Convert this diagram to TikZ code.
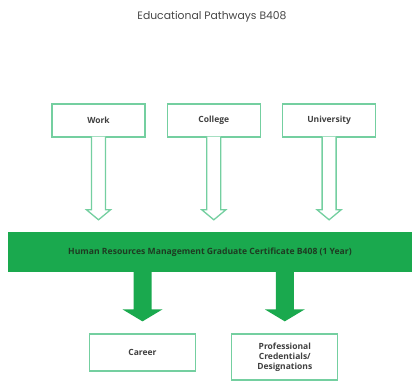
\documentclass[tikz,border=0pt]{standalone}
\usepackage{fontspec}
\setmainfont{Open Sans}
\newfontfamily\titlefont{Poppins}
\usetikzlibrary{positioning,calc}
\definecolor{bargreen}{HTML}{1AA94E}
\definecolor{linegreen}{HTML}{74CFA0}
\definecolor{bartext}{HTML}{1E3B22}
\tikzstyle{pathbox}=[rectangle, draw=linegreen, line width=1.3pt, fill=white, minimum width=93pt, minimum height=33pt, inner sep=2pt, text centered, font=\fontsize{8.5}{10}\selectfont\bfseries, text=black!75]
\tikzstyle{outbox}=[pathbox, minimum width=106pt, text width=100pt]
\tikzstyle{bar}=[rectangle, fill=bargreen, minimum width=404pt, minimum height=40pt, inner sep=0pt, text=bartext, font=\fontsize{8.6}{10}\selectfont\bfseries]
\tikzstyle{openarr}=[draw=linegreen, line width=1.3pt, fill=white, line join=miter]
\newcommand\openarrow[2]{
  \path (#1.south) coordinate ({#1}a) (#1.south |- #2.north) coordinate ({#1}b);
  \draw[openarr] ($({#1}a)+(-7,-1)$) -- ($({#1}b)+(-7,-22)$) -- ($({#1}b)+(-12,-22)$)
     -- ($({#1}b)+(0,-12)$) -- ($({#1}b)+(12,-22)$) -- ($({#1}b)+(7,-22)$) -- ($({#1}a)+(7,-1)$);
}
\newcommand\solidarrow[2]{
  \path (#2.north |- #1.south) coordinate ({#2}a) (#2.north) coordinate ({#2}b);
  \fill[bargreen] ($({#2}a)+(-9,0)$) -- ($({#2}b)+(-9,-24)$) -- ($({#2}b)+(-20,-24)$)
     -- ($({#2}b)+(0,-12)$) -- ($({#2}b)+(20,-24)$) -- ($({#2}b)+(9,-24)$) -- ($({#2}a)+(9,0)$) -- cycle;
}
\begin{document}
\begin{tikzpicture}[x=1pt, y=-1pt, node distance=0pt]
    \useasboundingbox (0,0) rectangle (412,380);

    \node (title) [font=\titlefont\fontsize{10.8}{13}\selectfont, text=black!72] at (212,17) {Educational Pathways B408};

% entry points
    \node (work) [pathbox] at (98.5,120.5) {Work};
    \node (college) [pathbox, right=21pt of work] {College};
    \node (uni) [pathbox, right=21pt of college] {University};

    \node (cert) [bar] at (210,252) {Human Resources Management Graduate Certificate B408 (1 Year)};

% outcomes
    \node (career) [outbox, minimum height=37pt] at (142.5,352.5) {Career};
    \node (prof) [outbox, minimum height=46pt, right=35pt of career.north east, anchor=north west] {Professional\\Credentials/\\Designations};

   \openarrow{work}{cert}
   \openarrow{college}{cert}
   \openarrow{uni}{cert}

   \solidarrow{cert}{career}
   \solidarrow{cert}{prof}

\end{tikzpicture}
\end{document}
